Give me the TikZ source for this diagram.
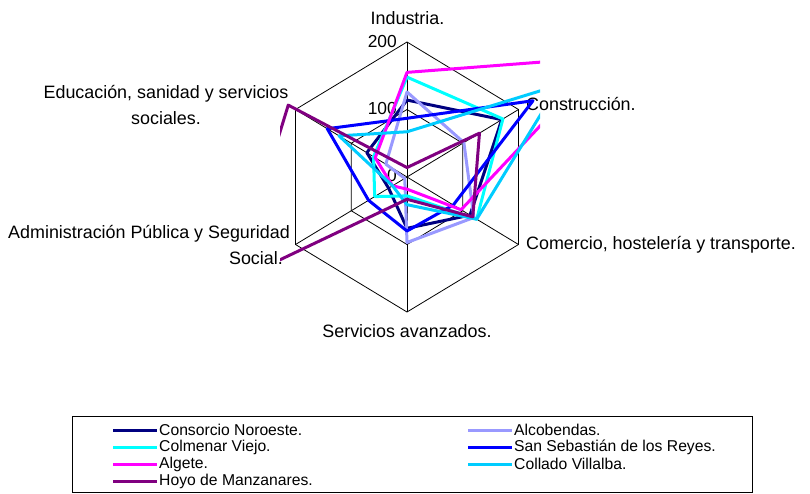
\documentclass[tikz,border=0pt]{standalone}
\usepackage{fontspec}
\setmainfont{Liberation Sans}
\definecolor{cnoro}{HTML}{000080}
\definecolor{calco}{HTML}{9999FF}
\definecolor{ccolm}{HTML}{00FFFF}
\definecolor{csans}{HTML}{0000FF}
\definecolor{calge}{HTML}{FF00FF}
\definecolor{ccoll}{HTML}{00CCFF}
\definecolor{choyo}{HTML}{800080}
\begin{document}
\begin{tikzpicture}[x=1pt,y=-1pt,
  grid/.style={draw=black,line width=0.8pt},
  series/.style={line width=3pt,line join=round},
  axlabel/.style={font=\fontsize{17.9}{25.5}\selectfont,inner sep=0pt},
  ticklabel/.style={font=\fontsize{17.4}{20}\selectfont,inner sep=0pt,anchor=east},
  legtext/.style={font=\fontsize{15.7}{17}\selectfont,inner sep=0pt,anchor=west}]
\useasboundingbox (0,0) rectangle (810,493);
% grid
\coordinate (C) at (407,177);
\foreach \r in {100,200}{
  \draw[grid] ({407},{177-0.675*\r}) -- ({407+0.5575*\r},{177-0.3375*\r}) -- ({407+0.5575*\r},{177+0.3375*\r}) -- ({407},{177+0.675*\r}) -- ({407-0.5575*\r},{177+0.3375*\r}) -- ({407-0.5575*\r},{177-0.3375*\r}) -- cycle;
}
\foreach \dx/\dy in {0/-135, 111.5/-67.5, 111.5/67.5, 0/135, -111.5/67.5, -111.5/-67.5}{
  \draw[grid] (C) -- ++(\dx,\dy);
}
% tick labels
\node[ticklabel] (t200) at (397,42) {200};
\node[ticklabel] (t100) at (397,109) {100};
\node[ticklabel] (t0) at (397,176) {0};
% axis labels
\node[axlabel] (lind) at (407.5,18) {Industria.};
\node[axlabel,anchor=west] (lcon) at (526,104) {Construcción.};
\node[axlabel,anchor=west] (lcom) at (526,245) {Comercio, hostelería y transporte.};
\node[axlabel] (lser) at (407,331) {Servicios avanzados.};
\node[axlabel,align=right,anchor=east] (ladm) at (290,245) {Administración Pública y Seguridad\\Social.\hspace*{7pt}};
\node[axlabel,align=center] (ledu) at (166,105) {Educación, sanidad y servicios\\sociales.};
% data points
\foreach \s/\a/\b/\c/\d/\e/\f in {
  noro/114/170/113/76/33/72,
  alco/126/102/120/97/4/38,
  colm/148/172/125/28/58/60,
  sans/87/226/83/80/69/143,
  alge/155/355/97/18/26/57,
  coll/67/272/125/41/26/122,
  hoyo/14/130/118/33/310/213}{
  \coordinate (\s1) at ({407},{177-0.675*\a});
  \coordinate (\s2) at ({407+0.5575*\b},{177-0.3375*\b});
  \coordinate (\s3) at ({407+0.5575*\c},{177+0.3375*\c});
  \coordinate (\s4) at ({407},{177+0.675*\d});
  \coordinate (\s5) at ({407-0.5575*\e},{177+0.3375*\e});
  \coordinate (\s6) at ({407-0.5575*\f},{177-0.3375*\f});
}
\begin{scope}
\clip (280,0) rectangle (540,493);
\foreach \s/\col in {noro/cnoro,alco/calco,colm/ccolm,sans/csans,alge/calge,coll/ccoll,hoyo/choyo}{
  \draw[series,draw=\col] (\s1) -- (\s2) -- (\s3) -- (\s4) -- (\s5) -- (\s6) -- cycle;
}
\end{scope}
% legend
\draw[line width=0.8pt] (72,416) rectangle (752,492);
\foreach \col/\txt/\x/\y/\n in {
  cnoro/Consorcio Noroeste./113/430/a,
  calco/Alcobendas./468/430/b,
  ccolm/Colmenar Viejo./113/447/c,
  csans/San Sebastián de los Reyes./468/447/d,
  calge/Algete./113/464/e,
  ccoll/Collado Villalba./468/464/f,
  choyo/Hoyo de Manzanares./113/481/g}{
  \coordinate (ls\n) at (\x,\y);
  \coordinate (le\n) at ({\x+44},\y);
  \draw[series,draw=\col,line cap=butt] (ls\n) -- (le\n);
  \node[legtext] (lt\n) at ({\x+46},\y) {\txt};
}
\end{tikzpicture}
\end{document}
